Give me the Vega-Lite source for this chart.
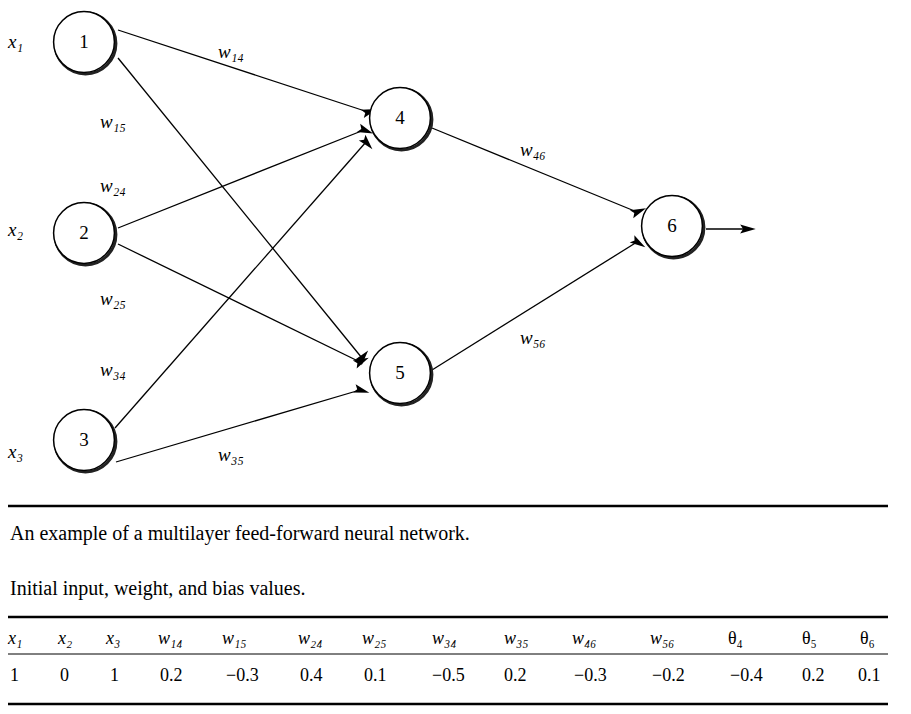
{
  "$schema": "https://vega.github.io/schema/vega-lite/v6.json",
  "autosize": {"type": "fit", "contains": "padding"},
  "width": 911, "height": 714, "padding": 0,
  "background": "white",
  "config": {"view": {"stroke": null}, "text": {"font": "Liberation Serif"}},
  "datasets": {
    "nodes": [
      {"id": "1", "x": 84, "y": 42}, {"id": "2", "x": 84, "y": 233}, {"id": "3", "x": 84, "y": 440},
      {"id": "4", "x": 400, "y": 118}, {"id": "5", "x": 400, "y": 373}, {"id": "6", "x": 672, "y": 226}
    ],
    "edges": [
      {"e": "14", "x": 118, "y": 30, "x2": 368, "y2": 112},
      {"e": "15", "x": 118, "y": 58, "x2": 362, "y2": 358},
      {"e": "24", "x": 118, "y": 228, "x2": 364, "y2": 130},
      {"e": "25", "x": 118, "y": 244, "x2": 360, "y2": 362},
      {"e": "34", "x": 115, "y": 428, "x2": 366, "y2": 142},
      {"e": "35", "x": 116, "y": 462, "x2": 360, "y2": 390},
      {"e": "46", "x": 432, "y": 128, "x2": 637, "y2": 212},
      {"e": "56", "x": 432, "y": 370, "x2": 637, "y2": 242},
      {"e": "out", "x": 706, "y": 229, "x2": 746, "y2": 229}
    ],
    "ilabels": [
      {"t": "w₁₄", "x": 218, "y": 52}, {"t": "w₁₅", "x": 100, "y": 122},
      {"t": "w₂₄", "x": 100, "y": 186}, {"t": "w₂₅", "x": 100, "y": 299},
      {"t": "w₃₄", "x": 100, "y": 370}, {"t": "w₃₅", "x": 218, "y": 455},
      {"t": "w₄₆", "x": 520, "y": 150}, {"t": "w₅₆", "x": 520, "y": 338},
      {"t": "x₁", "x": 8, "y": 42}, {"t": "x₂", "x": 8, "y": 230}, {"t": "x₃", "x": 8, "y": 452}
    ],
    "captions": [
      {"t": "An example of a multilayer feed-forward neural network.", "x": 10, "y": 534},
      {"t": "Initial input, weight, and bias values.", "x": 10, "y": 589}
    ],
    "thick": [
      {"x": 8, "x2": 888, "y": 506}, {"x": 8, "x2": 888, "y": 617}, {"x": 8, "x2": 888, "y": 704}
    ],
    "thin": [{"x": 8, "x2": 888, "y": 654}],
    "header": [
      {"t": "x₁", "x": 8}, {"t": "x₂", "x": 58}, {"t": "x₃", "x": 106},
      {"t": "w₁₄", "x": 158}, {"t": "w₁₅", "x": 222}, {"t": "w₂₄", "x": 298},
      {"t": "w₂₅", "x": 362}, {"t": "w₃₄", "x": 432}, {"t": "w₃₅", "x": 504},
      {"t": "w₄₆", "x": 572}, {"t": "w₅₆", "x": 650}
    ],
    "theta": [{"t": "θ₄", "x": 728}, {"t": "θ₅", "x": 802}, {"t": "θ₆", "x": 860}],
    "values": [
      {"t": "1", "x": 10}, {"t": "0", "x": 60}, {"t": "1", "x": 110},
      {"t": "0.2", "x": 160}, {"t": "−0.3", "x": 226}, {"t": "0.4", "x": 300},
      {"t": "0.1", "x": 364}, {"t": "−0.5", "x": 432}, {"t": "0.2", "x": 504},
      {"t": "−0.3", "x": 574}, {"t": "−0.2", "x": 652}, {"t": "−0.4", "x": 730},
      {"t": "0.2", "x": 802}, {"t": "0.1", "x": 858}
    ]
  },
  "layer": [
    {
      "data": {"name": "edges"},
      "mark": {"type": "rule", "color": "black", "strokeWidth": 1.3},
      "encoding": {
        "x": {"field": "x", "type": "quantitative", "scale": {"domain": [0, 911]}, "axis": null},
        "y": {"field": "y", "type": "quantitative", "scale": {"domain": [0, 714], "reverse": true}, "axis": null},
        "x2": {"field": "x2"}, "y2": {"field": "y2"}
      }
    },
    {
      "data": {"name": "edges"},
      "transform": [{"calculate": "atan2(datum.x2 - datum.x, datum.y2 - datum.y) * 180 / PI", "as": "ang"}],
      "mark": {"type": "point", "shape": "M0,-1L0.45,0.6L0,0.3L-0.45,0.6Z", "filled": true, "color": "black", "size": 380, "opacity": 1},
      "encoding": {
        "x": {"field": "x2", "type": "quantitative", "scale": {"domain": [0, 911]}, "axis": null},
        "y": {"field": "y2", "type": "quantitative", "scale": {"domain": [0, 714], "reverse": true}, "axis": null},
        "angle": {"field": "ang", "type": "quantitative", "scale": null}
      }
    },
    {
      "data": {"name": "nodes"},
      "mark": {"type": "point", "shape": "circle", "filled": false, "stroke": "#222", "strokeWidth": 3, "size": 3700, "opacity": 1, "xOffset": 1.5, "yOffset": 1.5},
      "encoding": {
        "x": {"field": "x", "type": "quantitative", "scale": {"domain": [0, 911]}, "axis": null},
        "y": {"field": "y", "type": "quantitative", "scale": {"domain": [0, 714], "reverse": true}, "axis": null}
      }
    },
    {
      "data": {"name": "nodes"},
      "mark": {"type": "point", "shape": "circle", "filled": true, "fill": "white", "stroke": "black", "strokeWidth": 1.5, "size": 3700, "opacity": 1},
      "encoding": {
        "x": {"field": "x", "type": "quantitative", "scale": {"domain": [0, 911]}, "axis": null},
        "y": {"field": "y", "type": "quantitative", "scale": {"domain": [0, 714], "reverse": true}, "axis": null}
      }
    },
    {
      "data": {"name": "nodes"},
      "mark": {"type": "text", "fontSize": 19, "color": "black"},
      "encoding": {
        "x": {"field": "x", "type": "quantitative", "scale": {"domain": [0, 911]}, "axis": null},
        "y": {"field": "y", "type": "quantitative", "scale": {"domain": [0, 714], "reverse": true}, "axis": null},
        "text": {"field": "id"}
      }
    },
    {
      "data": {"name": "ilabels"},
      "mark": {"type": "text", "fontSize": 19, "fontStyle": "italic", "align": "left", "color": "black"},
      "encoding": {
        "x": {"field": "x", "type": "quantitative", "scale": {"domain": [0, 911]}, "axis": null},
        "y": {"field": "y", "type": "quantitative", "scale": {"domain": [0, 714], "reverse": true}, "axis": null},
        "text": {"field": "t"}
      }
    },
    {
      "data": {"name": "captions"},
      "mark": {"type": "text", "fontSize": 20, "align": "left", "color": "black"},
      "encoding": {
        "x": {"field": "x", "type": "quantitative", "scale": {"domain": [0, 911]}, "axis": null},
        "y": {"field": "y", "type": "quantitative", "scale": {"domain": [0, 714], "reverse": true}, "axis": null},
        "text": {"field": "t"}
      }
    },
    {
      "data": {"name": "thick"},
      "mark": {"type": "rule", "color": "black", "strokeWidth": 2.5},
      "encoding": {
        "x": {"field": "x", "type": "quantitative", "scale": {"domain": [0, 911]}, "axis": null},
        "x2": {"field": "x2"},
        "y": {"field": "y", "type": "quantitative", "scale": {"domain": [0, 714], "reverse": true}, "axis": null}
      }
    },
    {
      "data": {"name": "thin"},
      "mark": {"type": "rule", "color": "black", "strokeWidth": 1},
      "encoding": {
        "x": {"field": "x", "type": "quantitative", "scale": {"domain": [0, 911]}, "axis": null},
        "x2": {"field": "x2"},
        "y": {"field": "y", "type": "quantitative", "scale": {"domain": [0, 714], "reverse": true}, "axis": null}
      }
    },
    {
      "data": {"name": "header"},
      "mark": {"type": "text", "fontSize": 18, "fontStyle": "italic", "align": "left", "color": "black"},
      "encoding": {
        "x": {"field": "x", "type": "quantitative", "scale": {"domain": [0, 911]}, "axis": null},
        "y": {"datum": 639, "type": "quantitative", "scale": {"domain": [0, 714], "reverse": true}, "axis": null},
        "text": {"field": "t"}
      }
    },
    {
      "data": {"name": "theta"},
      "mark": {"type": "text", "fontSize": 18, "align": "left", "color": "black"},
      "encoding": {
        "x": {"field": "x", "type": "quantitative", "scale": {"domain": [0, 911]}, "axis": null},
        "y": {"datum": 639, "type": "quantitative", "scale": {"domain": [0, 714], "reverse": true}, "axis": null},
        "text": {"field": "t"}
      }
    },
    {
      "data": {"name": "values"},
      "mark": {"type": "text", "fontSize": 18, "align": "left", "color": "black"},
      "encoding": {
        "x": {"field": "x", "type": "quantitative", "scale": {"domain": [0, 911]}, "axis": null},
        "y": {"datum": 676, "type": "quantitative", "scale": {"domain": [0, 714], "reverse": true}, "axis": null},
        "text": {"field": "t"}
      }
    }
  ]
}
